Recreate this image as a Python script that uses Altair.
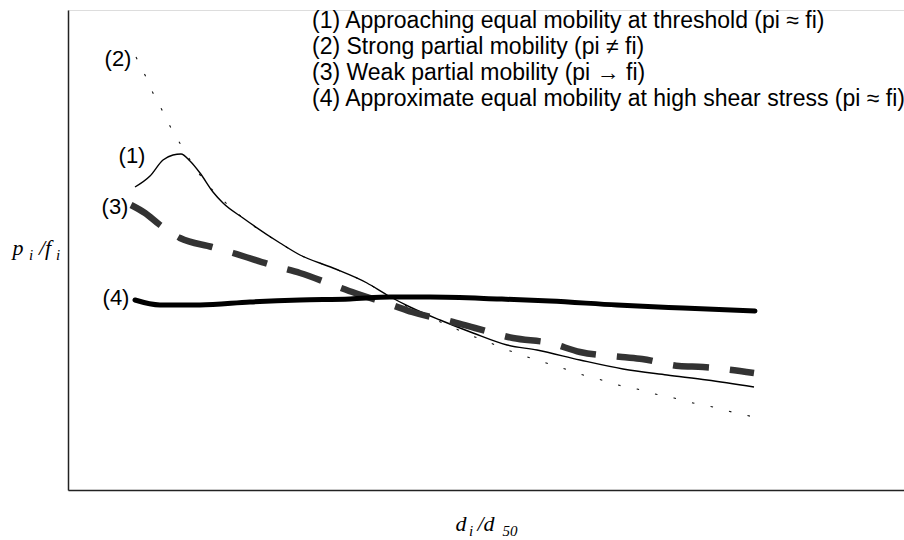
import altair as alt
import pandas as pd

# values (x: distance from the left axis, y: height above the bottom axis)
c1_px = [135, 150, 163, 173, 181, 190, 200, 213, 223, 243, 280, 300, 333, 367, 387, 410, 440, 473, 507, 537, 580, 623, 667, 707, 754]
c1_py = [187, 176, 160, 155, 154, 161, 173, 192, 203, 218, 243, 255, 268, 283, 295, 307, 320, 333, 345, 350, 360, 369, 375, 380, 387]

c2_px = [136, 145, 153, 162, 171, 181, 200, 228, 243, 280, 300, 333, 367, 387, 410, 452, 470, 488, 505, 562, 580, 598, 618, 637, 655, 674, 693, 713, 732, 754]
c2_py = [57, 75, 93, 110, 128, 145, 175, 205, 218, 243, 255, 268, 283, 295, 308, 327, 335, 342, 349, 368, 374, 379, 385, 389, 394, 398, 403, 407, 412, 417]

c3_px = [131, 145, 160, 180, 212, 233, 278, 300, 333, 355, 392, 412, 453, 475, 513, 550, 580, 622, 642, 679, 703, 754]
c3_py = [205, 213, 225, 238, 247, 253, 267, 273, 285, 293, 305, 312, 322, 328, 338, 343, 352, 357, 359, 366, 367, 373]

c4_px = [135, 160, 200, 250, 300, 350, 390, 430, 500, 550, 617, 683, 755]
c4_py = [300, 305, 305, 302, 300, 299, 297, 297, 299, 301, 305, 308, 311]

curve_labels = ["(1)", "(2)", "(3)", "(4)"]
label_px = [132, 118, 115, 116]
label_py = [156, 59, 207, 298]

legend_lines = [
    "(1) Approaching equal mobility at threshold (pi \u2248 fi)",
    "(2) Strong partial mobility (pi \u2260 fi)",
    "(3) Weak partial mobility (pi \u2192 fi)",
    "(4) Approximate equal mobility at high shear stress (pi \u2248 fi)",
]

LEFT, TOP, W, H = 68, 10, 836, 480


def to_df(px, py):
    return pd.DataFrame({"x": [p - LEFT for p in px], "y": [TOP + H - p for p in py]})


xs = alt.Scale(domain=[0, W], nice=False, zero=False)
ys = alt.Scale(domain=[0, H], nice=False, zero=False)
xax = alt.Axis(title="", ticks=False, labels=False, grid=False, domainColor="#222", domainWidth=1.5)
yax = alt.Axis(title="", ticks=False, labels=False, grid=False, domainColor="#222", domainWidth=1.5)


def line(df, **kw):
    return alt.Chart(df).mark_line(interpolate="monotone", **kw).encode(
        x=alt.X("x:Q", scale=xs, axis=xax),
        y=alt.Y("y:Q", scale=ys, axis=yax),
    )


l2 = line(to_df(c2_px, c2_py), color="#111", strokeWidth=1.1, strokeDash=[2.5, 16.5])
l1 = line(to_df(c1_px, c1_py), color="#000", strokeWidth=1.4)
l3 = line(to_df(c3_px, c3_py), color="#333", strokeWidth=6.5, strokeDash=[36, 21])
l4 = line(to_df(c4_px, c4_py), color="#000", strokeWidth=5, strokeCap="round")

lab_df = pd.DataFrame({
    "x": [p - LEFT for p in label_px],
    "y": [TOP + H - p for p in label_py],
    "t": curve_labels,
})
labels = alt.Chart(lab_df).mark_text(font="Liberation Sans", fontSize=22, align="center",
                                     baseline="middle", color="#000").encode(
    x=alt.X("x:Q", scale=xs, axis=xax), y=alt.Y("y:Q", scale=ys, axis=yax), text="t:N")

# legend text lines, positioned in pixels of the plot area
leg_df = pd.DataFrame({"t": legend_lines, "yy": [21 - TOP, 47 - TOP, 73 - TOP, 99 - TOP]})
legend = alt.Chart(leg_df).mark_text(font="Liberation Sans", fontSize=23, align="left",
                                     baseline="middle", color="#000").encode(
    x=alt.value(312 - LEFT),
    y=alt.Y("yy:Q", scale=None, axis=None),
    text="t:N")

# axis titles built from italic serif pieces
ttl_df = pd.DataFrame({
    "t": ["p", "i", "/f", "i", "d", "i", "/d", "50"],
    "px": [18, 31, 45, 58, 461, 471, 486, 510],
    "py": [255, 260, 255, 260, 531, 536, 531, 536],
    "s": [22, 15, 22, 15, 22, 15, 22, 15],
})
ttl_df["x"] = ttl_df["px"] - LEFT
ttl_df["y"] = ttl_df["py"] - TOP
titles = alt.Chart(ttl_df).mark_text(font="Liberation Serif", fontStyle="italic", align="center",
                                     baseline="alphabetic", color="#000").encode(
    x=alt.X("x:Q", scale=None, axis=None),
    y=alt.Y("y:Q", scale=None, axis=None),
    size=alt.Size("s:Q", scale=None, legend=None),
    text="t:N")

chart = alt.layer(l2, l1, l3, l4, labels, legend, titles).properties(
    width=W, height=H,
    autosize=alt.AutoSizeParams(type="none"),
    padding={"left": LEFT, "top": TOP, "right": 0, "bottom": 50},
).configure_view(strokeWidth=0).configure(background="white")

chart.save("out.html", embed_options={"renderer": "svg", "actions": False})
